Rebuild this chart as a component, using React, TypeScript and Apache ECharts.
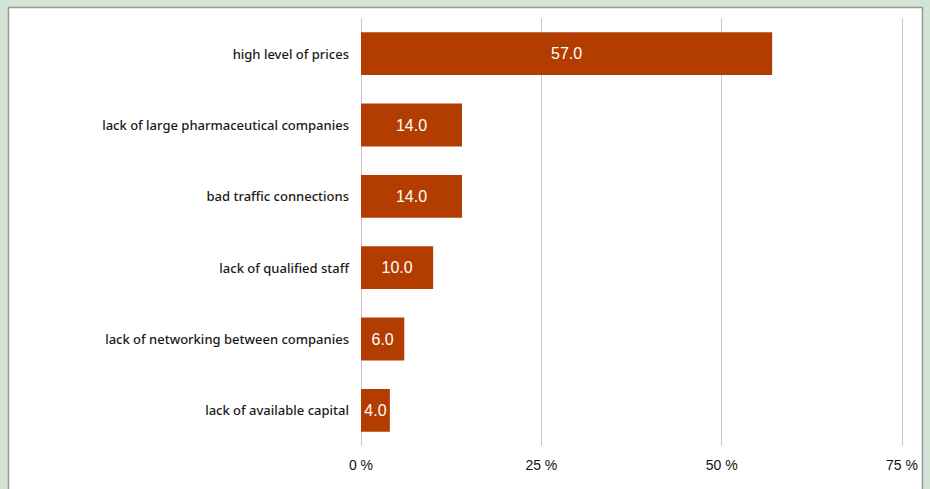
import React, { useEffect, useRef } from "react";
import * as echarts from "echarts";

const categories = [
  "high level of prices",
  "lack of large pharmaceutical companies",
  "bad traffic connections",
  "lack of qualified staff",
  "lack of networking between companies",
  "lack of available capital",
];
const values = [57.0, 14.0, 14.0, 10.0, 6.0, 4.0];
const xTicks = [0, 25, 50, 75];

export default function App() {
  const ref = useRef<HTMLDivElement>(null);
  useEffect(() => {
    document.body.style.margin = "0";
    const chart = echarts.init(ref.current!, null, { renderer: "svg" });
    chart.setOption({
      animation: false,
      backgroundColor: "#d2e4d6",
      graphic: [
        {
          type: "rect",
          z: -10,
          shape: { x: 8.5, y: 7.5, width: 914, height: 500 },
          style: { fill: "#ffffff", stroke: "#999999", lineWidth: 1.5 },
        },
      ],
      grid: { left: 361, right: 28, top: 18, bottom: 43, containLabel: false },
      xAxis: {
        type: "value",
        min: xTicks[0],
        max: xTicks[xTicks.length - 1],
        interval: 25,
        axisLine: { show: false },
        axisTick: { show: false },
        splitLine: { show: true, lineStyle: { color: "#c8c8c8", width: 1 } },
        axisLabel: {
          formatter: "{value} %",
          color: "#111",
          fontSize: 14,
          fontFamily: "Liberation Sans",
          margin: 12,
        },
      },
      yAxis: {
        type: "category",
        inverse: true,
        data: categories,
        axisLine: { show: false },
        axisTick: { show: false },
        splitLine: { show: false },
        axisLabel: {
          color: "#1a1a1a",
          fontSize: 13,
          fontFamily: "Noto Sans",
          fontWeight: 500,
          margin: 12,
        },
      },
      series: [
        {
          type: "bar",
          data: values,
          barCategoryGap: "40%",
          itemStyle: { color: "#b33c00" },
          label: {
            show: true,
            position: "inside",
            formatter: (p: any) => Number(p.value).toFixed(1),
            color: "#ffffff",
            fontSize: 16,
            fontFamily: "Liberation Sans",
            fontWeight: "normal",
          },
        },
      ],
    });
    return () => chart.dispose();
  }, []);
  return <div ref={ref} style={{ width: 930, height: 489 }} />;
}
